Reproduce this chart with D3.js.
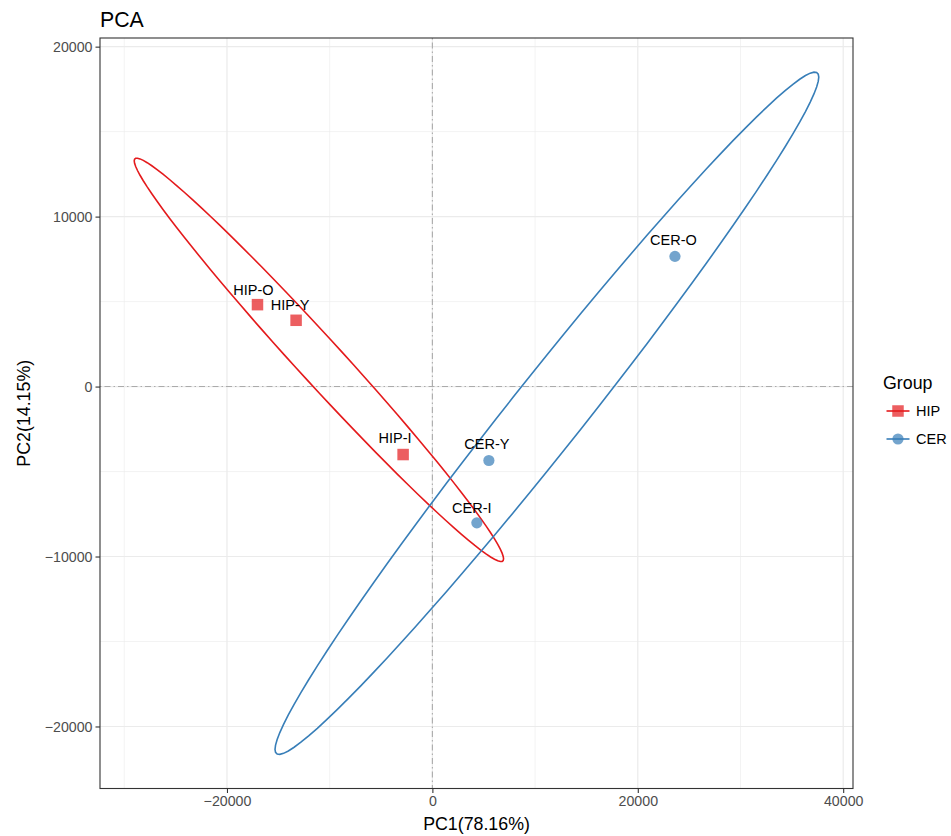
<!DOCTYPE html>
<html>
<head>
<meta charset="utf-8">
<script src="https://cdn.jsdelivr.net/npm/d3@7/dist/d3.min.js"></script>
<style>
  html, body { margin: 0; padding: 0; background: #fff; }
  svg text { font-family: "Liberation Sans", Arial, Helvetica, sans-serif; }
</style>
</head>
<body>
<svg id="chart" width="951" height="836"></svg>
<script>
// Sample scores on the first two principal components
const samples = ["HIP-O", "HIP-Y", "HIP-I", "CER-O", "CER-Y", "CER-I"];
const groupOf = ["HIP", "HIP", "HIP", "CER", "CER", "CER"];
const pc1 = [-17030, -13270, -2850, 23620, 5500, 4330];
const pc2 = [4820, 3900, -4000, 7660, -4350, -8020];

const groups = ["HIP", "CER"];
const groupColors = ["#E41A1C", "#377EB8"];
const xTicks = [-20000, 0, 20000, 40000];
const yTicks = [-20000, -10000, 0, 10000, 20000];
const xTitle = "PC1(78.16%)";
const yTitle = "PC2(14.15%)";
const chartTitle = "PCA";
const ellipseLevel = 0.95;

// label offsets (px) so the sample names sit above their markers
const labelDx = [-4, -6, -8, -1.5, -2, -5];
const labelDy = [-15, -15, -16.5, -16, -16, -15];

const panel = { left: 100, right: 853, top: 38, bottom: 788.5 };
const svg = d3.select("#chart");

// ---- confidence ellipse per group (normal, chi-square radius) ----
const radius = Math.sqrt(-2 * Math.log(1 - ellipseLevel)); // sqrt(qchisq(level, 2))
const nSeg = 100;
const ellipses = groups.map(g => {
  const idx = samples.map((_, i) => i).filter(i => groupOf[i] === g);
  const xs = idx.map(i => pc1[i]), ys = idx.map(i => pc2[i]);
  const mx = d3.mean(xs), my = d3.mean(ys);
  const n = xs.length;
  let sxx = 0, syy = 0, sxy = 0;
  for (let k = 0; k < n; k++) {
    sxx += (xs[k] - mx) ** 2;
    syy += (ys[k] - my) ** 2;
    sxy += (xs[k] - mx) * (ys[k] - my);
  }
  sxx /= n - 1; syy /= n - 1; sxy /= n - 1;
  // Cholesky factor of the covariance matrix
  const a = Math.sqrt(sxx), b = sxy / a, c = Math.sqrt(Math.max(syy - b * b, 0));
  const pts = d3.range(nSeg).map(k => {
    const t = 2 * Math.PI * k / nSeg;
    const u = Math.cos(t), v = Math.sin(t);
    return [mx + radius * a * u, my + radius * (b * u + c * v)];
  });
  return { group: g, pts };
});

// ---- scales with 5% expansion around everything drawn ----
const allX = pc1.concat(...ellipses.map(e => e.pts.map(p => p[0])), [0]);
const allY = pc2.concat(...ellipses.map(e => e.pts.map(p => p[1])), [0]);
function expand(ext) { const d = (ext[1] - ext[0]) * 0.05; return [ext[0] - d, ext[1] + d]; }
const x = d3.scaleLinear().domain(expand(d3.extent(allX))).range([panel.left, panel.right]);
const y = d3.scaleLinear().domain(expand(d3.extent(allY))).range([panel.bottom, panel.top]);
const color = d3.scaleOrdinal().domain(groups).range(groupColors);

// ---- grid ----
const minorX = d3.range(-40000, 60000, 20000).map(v => v + 10000)
  .filter(v => v > x.domain()[0] && v < x.domain()[1]);
const minorY = d3.range(-30000, 30000, 10000).map(v => v + 5000)
  .filter(v => v > y.domain()[0] && v < y.domain()[1]);
const grid = svg.append("g");
grid.selectAll(".mx").data(minorX).join("line")
  .attr("x1", d => x(d)).attr("x2", d => x(d))
  .attr("y1", panel.top).attr("y2", panel.bottom)
  .attr("stroke", "#EBEBEB").attr("stroke-width", 0.6);
grid.selectAll(".my").data(minorY).join("line")
  .attr("y1", d => y(d)).attr("y2", d => y(d))
  .attr("x1", panel.left).attr("x2", panel.right)
  .attr("stroke", "#EBEBEB").attr("stroke-width", 0.6);
grid.selectAll(".gx").data(xTicks).join("line")
  .attr("x1", d => x(d)).attr("x2", d => x(d))
  .attr("y1", panel.top).attr("y2", panel.bottom)
  .attr("stroke", "#EBEBEB").attr("stroke-width", 1.2);
grid.selectAll(".gy").data(yTicks).join("line")
  .attr("y1", d => y(d)).attr("y2", d => y(d))
  .attr("x1", panel.left).attr("x2", panel.right)
  .attr("stroke", "#EBEBEB").attr("stroke-width", 1.2);

// ---- reference lines at the origin ----
svg.append("line")
  .attr("x1", x(0)).attr("x2", x(0)).attr("y1", panel.top).attr("y2", panel.bottom)
  .attr("stroke", "#ABABAB").attr("stroke-width", 1.1).attr("stroke-dasharray", "1.5,3,6,3");
svg.append("line")
  .attr("y1", y(0)).attr("y2", y(0)).attr("x1", panel.left).attr("x2", panel.right)
  .attr("stroke", "#ABABAB").attr("stroke-width", 1.1).attr("stroke-dasharray", "1.5,3,6,3");

// ---- ellipses ----
const line = d3.line().x(p => x(p[0])).y(p => y(p[1])).curve(d3.curveLinearClosed);
svg.append("g").selectAll("path").data(ellipses).join("path")
  .attr("d", e => line(e.pts))
  .attr("fill", "none")
  .attr("stroke", e => color(e.group))
  .attr("stroke-width", 1.6);

// ---- points ----
const idxs = samples.map((_, i) => i);
const sq = 11.5;
const pts = svg.append("g");
pts.selectAll("rect").data(idxs.filter(i => groupOf[i] === "HIP")).join("rect")
  .attr("x", i => x(pc1[i]) - sq / 2).attr("y", i => y(pc2[i]) - sq / 2)
  .attr("width", sq).attr("height", sq)
  .attr("fill", i => color(groupOf[i])).attr("fill-opacity", 0.7);
pts.selectAll("circle").data(idxs.filter(i => groupOf[i] === "CER")).join("circle")
  .attr("cx", i => x(pc1[i])).attr("cy", i => y(pc2[i])).attr("r", 5.6)
  .attr("fill", i => color(groupOf[i])).attr("fill-opacity", 0.7);

// ---- sample labels ----
svg.append("g").selectAll("text").data(idxs).join("text")
  .attr("x", i => x(pc1[i]) + labelDx[i])
  .attr("y", i => y(pc2[i]) + labelDy[i])
  .attr("text-anchor", "middle").attr("dominant-baseline", "central")
  .attr("font-size", 14.5).attr("fill", "#000")
  .text(i => samples[i]);

// ---- panel border ----
svg.append("rect")
  .attr("x", panel.left).attr("y", panel.top)
  .attr("width", panel.right - panel.left).attr("height", panel.bottom - panel.top)
  .attr("fill", "none").attr("stroke", "#333333").attr("stroke-width", 1.1);

// ---- axes ----
const fmt = v => (v < 0 ? "\u2212" : "") + Math.abs(v);
const xAxis = svg.append("g").attr("transform", `translate(0,${panel.bottom})`)
  .call(d3.axisBottom(x).tickValues(xTicks).tickSize(4.5).tickSizeOuter(0).tickPadding(3).tickFormat(fmt));
const yAxis = svg.append("g").attr("transform", `translate(${panel.left},0)`)
  .call(d3.axisLeft(y).tickValues(yTicks).tickSize(4.5).tickSizeOuter(0).tickPadding(3).tickFormat(fmt));
[xAxis, yAxis].forEach(ax => {
  ax.select(".domain").remove();
  ax.selectAll(".tick line").attr("stroke", "#333333").attr("stroke-width", 1.1);
  ax.selectAll(".tick text").attr("fill", "#4D4D4D").attr("font-size", 14.2)
    .style("font-family", "'Liberation Sans', Arial, sans-serif");
});

// ---- titles ----
svg.append("text").attr("x", (panel.left + panel.right) / 2).attr("y", 830)
  .attr("text-anchor", "middle").attr("font-size", 17.8).attr("fill", "#000").text(xTitle);
svg.append("text")
  .attr("transform", `translate(30,${(panel.top + panel.bottom) / 2}) rotate(-90)`)
  .attr("text-anchor", "middle").attr("font-size", 17.8).attr("fill", "#000").text(yTitle);
svg.append("text").attr("x", panel.left).attr("y", 27)
  .attr("font-size", 21.3).attr("fill", "#000").text(chartTitle);

// ---- legend ----
const legend = svg.append("g").attr("transform", "translate(883,0)");
legend.append("text").attr("x", 0).attr("y", 389).attr("font-size", 17.8).attr("fill", "#000").text("Group");
const items = legend.selectAll(".item").data(groups).join("g")
  .attr("transform", (d, i) => `translate(0,${411 + i * 28})`);
items.append("line").attr("x1", 3.5).attr("x2", 26.5).attr("y1", 0).attr("y2", 0)
  .attr("stroke", d => color(d)).attr("stroke-width", 1.6);
items.filter(d => d === "HIP").append("rect")
  .attr("x", 15 - sq / 2).attr("y", -sq / 2).attr("width", sq).attr("height", sq)
  .attr("fill", d => color(d)).attr("fill-opacity", 0.7);
items.filter(d => d === "CER").append("circle")
  .attr("cx", 15).attr("cy", 0).attr("r", 5.6)
  .attr("fill", d => color(d)).attr("fill-opacity", 0.7);
items.append("text").attr("x", 33).attr("y", 0).attr("dominant-baseline", "central")
  .attr("font-size", 14.5).attr("fill", "#000").text(d => d);
</script>
</body>
</html>
